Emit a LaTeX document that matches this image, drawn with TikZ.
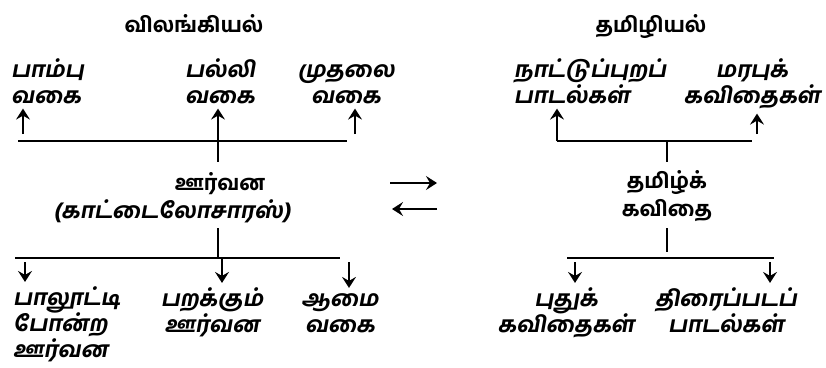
\documentclass[tikz,border=0pt]{standalone}
\usepackage{fontspec}
\newfontfamily\tamil[Script=Tamil]{Hind Madurai Bold}
\newfontfamily\tamilsl[Script=Tamil,FakeSlant=0.18]{Hind Madurai Bold}
\usetikzlibrary{arrows.meta}
\tikzset{
  lbl/.style={font=\tamilsl\fontsize{22}{26}\selectfont, inner sep=0pt},
  ttl/.style={font=\tamil\fontsize{21}{28}\selectfont, inner sep=0pt},
  bar/.style={line width=2.6pt},
  stem/.style={line width=1.5pt},
  arrowline/.style={line width=1.6pt, shorten >=5pt, -{Stealth[length=11pt,width=14pt,inset=4pt]}}
}
\begin{document}
\begin{tikzpicture}[x=1pt,y=-1pt]
    \useasboundingbox (0,0) rectangle (826,367);
    \node [ttl, anchor=base] (vil) at (194,32) {விலங்கியல்};
    \node [ttl, anchor=base] (tam) at (651,32) {தமிழியல்};
    \node [lbl, anchor=base west, align=left] (pambu) at (11,103) {பாம்பு\\வகை};
    \node [lbl, anchor=base, align=center] (palli) at (220,103) {பல்லி\\வகை};
    \node [lbl, anchor=base, align=center] (muthalai) at (346,103) {முதலை\\வகை};
    \node [ttl, anchor=base] (oorvana) at (220,190) {ஊர்வன};
    \node [lbl, anchor=base] (kattai) at (172,218) {(காட்டைலோசாரஸ்)};
    \node [lbl, anchor=base west, align=left] (paalootti) at (13,357) {பாலூட்டி\\போன்ற\\ஊர்வன};
    \node [lbl, anchor=base, align=center] (parakkum) at (212,332) {பறக்கும்\\ஊர்வன};
    \node [lbl, anchor=base, align=center] (aamai) at (340,332) {ஆமை\\வகை};
    \node [lbl, anchor=base, align=left] (naattu) at (590,103) {நாட்டுப்புறப்\\பாடல்கள்};
    \node [lbl, anchor=base, align=center] (marabu) at (752,103) {மரபுக்\\கவிதைகள்};
    \node [ttl, anchor=base, align=center] (kavithai) at (667,216) {தமிழ்க்\\கவிதை};
    \node [lbl, anchor=base, align=center] (puthu) at (566,332) {புதுக்\\கவிதைகள்};
    \node [lbl, anchor=base, align=center] (thirai) at (726,332) {திரைப்படப்\\பாடல்கள்};
    \coordinate (lt1) at (18,141);
    \coordinate (lt2) at (347,141);
    \coordinate (lb1) at (15,258);
    \coordinate (lb2) at (340,258);
    \coordinate (rt1) at (557,141);
    \coordinate (rt2) at (752,141);
    \coordinate (rb1) at (567,258);
    \coordinate (rb2) at (774,258);
    \coordinate (arr1) at (390,183);
    \coordinate (arr2) at (442,183);
    \coordinate (arr3) at (437,209);
    \coordinate (arr4) at (387,209);
    \draw [bar] (lt1) -- (lt2);
    \draw [bar] (lb1) -- (lb2);
    \draw [bar] (rt1) -- (rt2);
    \draw [bar] (rb1) -- (rb2);
    \draw [arrowline] (23,134) -- (23,0 |- pambu.south);
    \draw [arrowline] (218,141) -- (218,0 |- palli.south);
    \draw [arrowline] (355,134) -- (355,0 |- muthalai.south);
    \draw [stem] (218,141) -- (218,162);
    \draw [stem] (218,228) -- (218,258);
    \draw [arrowline] (25,262) -- (25,0 |- paalootti.north);
    \draw [arrowline] (222,258) -- (222,0 |- parakkum.north);
    \draw [arrowline] (349,262) -- (349,0 |- aamai.north);
    \draw [arrowline] (557,141) -- (557,0 |- naattu.south);
    \draw [arrowline] (757,134) -- (757,0 |- marabu.south);
    \draw [stem] (667,141) -- (667,162);
    \draw [stem] (667,228) -- (667,252);
    \draw [arrowline] (575,262) -- (575,0 |- puthu.north);
    \draw [arrowline] (770,262) -- (770,0 |- thirai.north);
    \draw [arrowline] (arr1) -- (arr2);
    \draw [arrowline] (arr3) -- (arr4);
\end{tikzpicture}
\end{document}
